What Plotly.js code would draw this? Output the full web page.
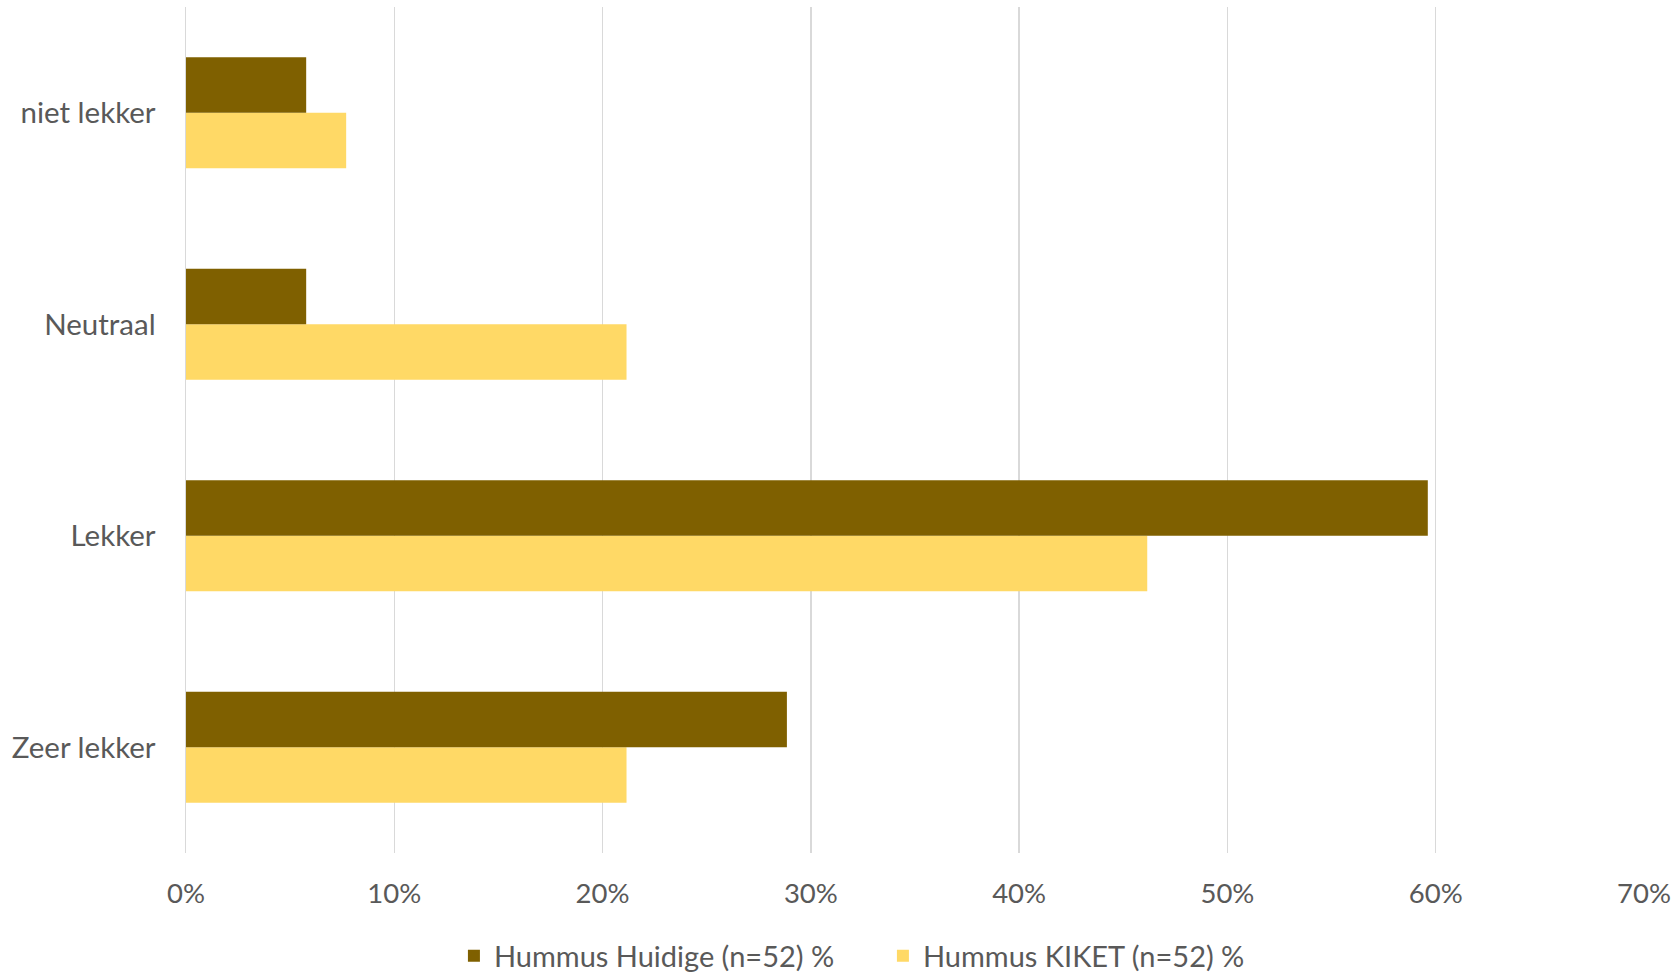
<!DOCTYPE html>
<html><head><meta charset="utf-8">
<script src="https://cdn.plot.ly/plotly-3.0.1.min.js"></script>
<style>html,body{margin:0;padding:0;background:#fff;}#chart{width:1678px;height:973px;}</style>
</head><body><div id="chart"></div>
<script>
const categories = ["Zeer lekker", "Lekker", "Neutraal", "niet lekker"];
const huidigeValues = [0.2885, 0.5962, 0.0577, 0.0577];
const kiketValues = [0.2115, 0.4615, 0.2115, 0.0769];
const seriesNames = ["Hummus Huidige (n=52) %", "Hummus KIKET (n=52) %"];
const tickVals = [0, 0.1, 0.2, 0.3, 0.4, 0.5, 0.6, 0.7];

const font = "Lato, 'Open Sans', sans-serif";
const traces = [
  {type: "bar", orientation: "h", name: seriesNames[1], y: categories, x: kiketValues,
   marker: {color: "#FFD966"}, hoverinfo: "x+y"},
  {type: "bar", orientation: "h", name: seriesNames[0], y: categories, x: huidigeValues,
   marker: {color: "#7F6000"}, hoverinfo: "x+y"}
];
const layout = {
  width: 1678, height: 973,
  margin: {l: 186, r: 34, t: 7, b: 120},
  paper_bgcolor: "#fff", plot_bgcolor: "#fff",
  barmode: "group", bargap: 0.475, bargroupgap: 0,
  font: {family: font, color: "#595959", size: 27},
  xaxis: {range: [0, 0.7], tickvals: tickVals, tickformat: ".0%",
    showgrid: true, gridcolor: "#D9D9D9", gridwidth: 1.5, automargin: false,
    zeroline: false, showline: false, ticks: "", ticklen: 0, ticklabelstandoff: 21,
    tickfont: {size: 27.5, color: "#595959"}, fixedrange: true},
  yaxis: {type: "category", showgrid: false, zeroline: false, showline: true,
    linecolor: "#D9D9D9", linewidth: 1.5, ticks: "", ticklabelstandoff: 23,
    tickfont: {size: 29.5, color: "#595959"}, automargin: false},
  showlegend: true,
  legend: {orientation: "h", traceorder: "reversed", x: 0.478, xanchor: "center",
    yref: "container", y: 0.0175, yanchor: "middle", font: {size: 29, color: "#595959"},
    entrywidth: 384, entrywidthmode: "pixels",
    itemwidth: 30, bgcolor: "rgba(0,0,0,0)"}
};
Plotly.newPlot("chart", traces, layout, {displayModeBar: false, staticPlot: true});
</script></body></html>
